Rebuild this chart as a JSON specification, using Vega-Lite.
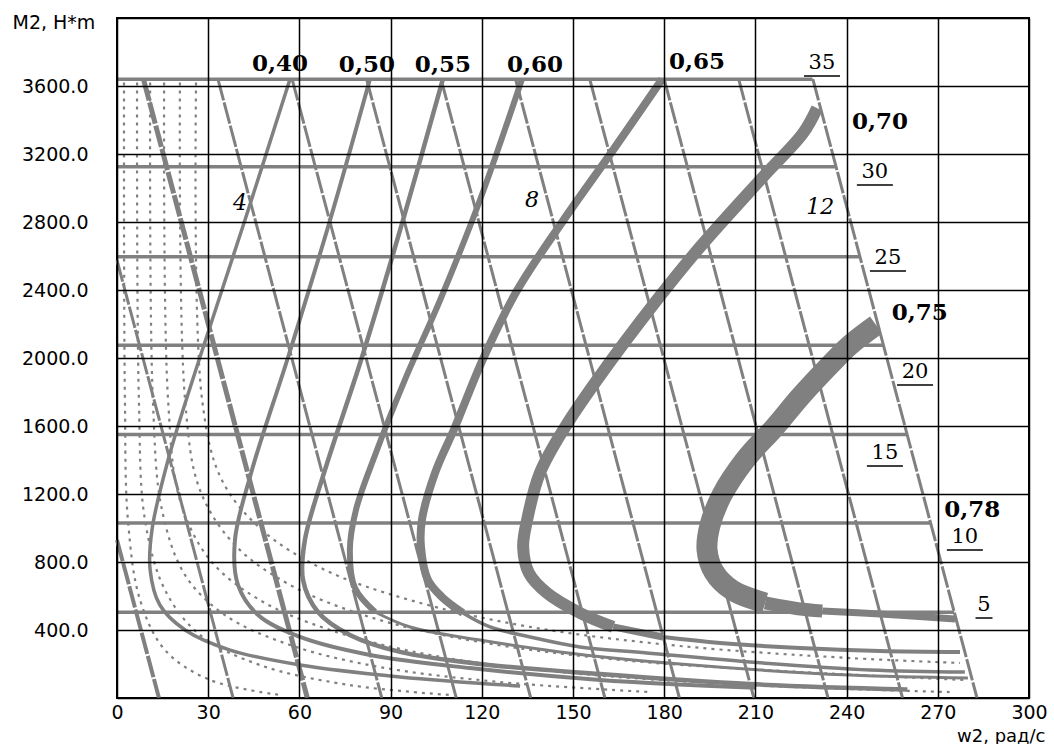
{
  "$schema": "https://vega.github.io/schema/vega-lite/v6.json",
  "width": 912,
  "height": 680,
  "autosize": {"type": "none"},
  "padding": {"left": 117, "top": 18, "right": 25, "bottom": 46},
  "background": "white",
  "config": {"view": {"stroke": "#000", "strokeWidth": 2}},
  "datasets": {
    "curves": [
      {"k": "ray", "g": "r1", "i": 0, "w": 0, "m": 930}, {"k": "ray", "g": "r1", "i": 1, "w": 13.8, "m": 0},
      {"k": "ray", "g": "r2", "i": 0, "w": 0, "m": 2575}, {"k": "ray", "g": "r2", "i": 1, "w": 38.2, "m": 0},
      {"k": "ray", "g": "r3", "i": 0, "w": 8.7, "m": 3640}, {"k": "ray", "g": "r3", "i": 1, "w": 62.6, "m": 0},
      {"k": "ray", "g": "r4", "i": 0, "w": 33.2, "m": 3640}, {"k": "ray", "g": "r4", "i": 1, "w": 87.1, "m": 0},
      {"k": "ray", "g": "r5", "i": 0, "w": 57.6, "m": 3640}, {"k": "ray", "g": "r5", "i": 1, "w": 111.6, "m": 0},
      {"k": "ray", "g": "r6", "i": 0, "w": 82.1, "m": 3640}, {"k": "ray", "g": "r6", "i": 1, "w": 136.1, "m": 0},
      {"k": "ray", "g": "r7", "i": 0, "w": 106.6, "m": 3640}, {"k": "ray", "g": "r7", "i": 1, "w": 160.5, "m": 0},
      {"k": "ray", "g": "r8", "i": 0, "w": 131.1, "m": 3640}, {"k": "ray", "g": "r8", "i": 1, "w": 185.0, "m": 0},
      {"k": "ray", "g": "r9", "i": 0, "w": 155.5, "m": 3640}, {"k": "ray", "g": "r9", "i": 1, "w": 209.5, "m": 0},
      {"k": "ray", "g": "r10", "i": 0, "w": 180.0, "m": 3640}, {"k": "ray", "g": "r10", "i": 1, "w": 233.9, "m": 0},
      {"k": "ray", "g": "r11", "i": 0, "w": 204.5, "m": 3640}, {"k": "ray", "g": "r11", "i": 1, "w": 258.4, "m": 0},
      {"k": "ray", "g": "r12", "i": 0, "w": 228.9, "m": 3640}, {"k": "ray", "g": "r12", "i": 1, "w": 282.9, "m": 0},

      {"k": "tq", "g": "t35", "i": 0, "w": 0, "m": 3640}, {"k": "tq", "g": "t35", "i": 1, "w": 228.8, "m": 3640},
      {"k": "tq", "g": "t30", "i": 0, "w": 0, "m": 3125}, {"k": "tq", "g": "t30", "i": 1, "w": 236.5, "m": 3125},
      {"k": "tq", "g": "t25", "i": 0, "w": 0, "m": 2595}, {"k": "tq", "g": "t25", "i": 1, "w": 244.3, "m": 2595},
      {"k": "tq", "g": "t20", "i": 0, "w": 0, "m": 2075}, {"k": "tq", "g": "t20", "i": 1, "w": 252.1, "m": 2075},
      {"k": "tq", "g": "t15", "i": 0, "w": 0, "m": 1550}, {"k": "tq", "g": "t15", "i": 1, "w": 259.9, "m": 1550},
      {"k": "tq", "g": "t10", "i": 0, "w": 0, "m": 1030}, {"k": "tq", "g": "t10", "i": 1, "w": 267.6, "m": 1030},
      {"k": "tq", "g": "t5", "i": 0, "w": 0, "m": 505}, {"k": "tq", "g": "t5", "i": 1, "w": 275.4, "m": 505},

      {"k": "dot", "g": "d1", "i": 0, "w": 2.3, "m": 3620}, {"k": "dot", "g": "d1", "i": 1, "w": 2.6, "m": 1753}, {"k": "dot", "g": "d1", "i": 2, "w": 3.6, "m": 1047}, {"k": "dot", "g": "d1", "i": 3, "w": 7.6, "m": 576}, {"k": "dot", "g": "d1", "i": 4, "w": 15.8, "m": 282}, {"k": "dot", "g": "d1", "i": 5, "w": 30.6, "m": 106}, {"k": "dot", "g": "d1", "i": 6, "w": 53.6, "m": 18},
      {"k": "dot", "g": "d2", "i": 0, "w": 6.6, "m": 3620}, {"k": "dot", "g": "d2", "i": 1, "w": 7.2, "m": 1753}, {"k": "dot", "g": "d2", "i": 2, "w": 9.2, "m": 1047}, {"k": "dot", "g": "d2", "i": 3, "w": 15.8, "m": 635}, {"k": "dot", "g": "d2", "i": 4, "w": 27.3, "m": 371}, {"k": "dot", "g": "d2", "i": 5, "w": 47.0, "m": 194}, {"k": "dot", "g": "d2", "i": 6, "w": 76.6, "m": 76}, {"k": "dot", "g": "d2", "i": 7, "w": 109.5, "m": 18},
      {"k": "dot", "g": "d3", "i": 0, "w": 10.9, "m": 3620}, {"k": "dot", "g": "d3", "i": 1, "w": 11.8, "m": 1753}, {"k": "dot", "g": "d3", "i": 2, "w": 14.8, "m": 1106}, {"k": "dot", "g": "d3", "i": 3, "w": 22.4, "m": 723}, {"k": "dot", "g": "d3", "i": 4, "w": 35.5, "m": 488}, {"k": "dot", "g": "d3", "i": 5, "w": 56.9, "m": 312}, {"k": "dot", "g": "d3", "i": 6, "w": 86.5, "m": 182}, {"k": "dot", "g": "d3", "i": 7, "w": 126.0, "m": 94}, {"k": "dot", "g": "d3", "i": 8, "w": 175.3, "m": 35},
      {"k": "dot", "g": "d4", "i": 0, "w": 15.5, "m": 3620}, {"k": "dot", "g": "d4", "i": 1, "w": 16.8, "m": 1753}, {"k": "dot", "g": "d4", "i": 2, "w": 20.7, "m": 1165}, {"k": "dot", "g": "d4", "i": 3, "w": 30.6, "m": 812}, {"k": "dot", "g": "d4", "i": 4, "w": 47.0, "m": 576}, {"k": "dot", "g": "d4", "i": 5, "w": 70.1, "m": 400}, {"k": "dot", "g": "d4", "i": 6, "w": 103.0, "m": 253}, {"k": "dot", "g": "d4", "i": 7, "w": 145.7, "m": 153}, {"k": "dot", "g": "d4", "i": 8, "w": 208.2, "m": 76}, {"k": "dot", "g": "d4", "i": 9, "w": 274.0, "m": 35},
      {"k": "dot", "g": "d5", "i": 0, "w": 20.7, "m": 3620}, {"k": "dot", "g": "d5", "i": 1, "w": 22.4, "m": 1753}, {"k": "dot", "g": "d5", "i": 2, "w": 27.3, "m": 1223}, {"k": "dot", "g": "d5", "i": 3, "w": 38.8, "m": 900}, {"k": "dot", "g": "d5", "i": 4, "w": 56.9, "m": 665}, {"k": "dot", "g": "d5", "i": 5, "w": 83.2, "m": 476}, {"k": "dot", "g": "d5", "i": 6, "w": 119.4, "m": 329}, {"k": "dot", "g": "d5", "i": 7, "w": 165.5, "m": 224}, {"k": "dot", "g": "d5", "i": 8, "w": 224.7, "m": 153}, {"k": "dot", "g": "d5", "i": 9, "w": 278.9, "m": 106},
      {"k": "dot", "g": "d6", "i": 0, "w": 26.0, "m": 3620}, {"k": "dot", "g": "d6", "i": 1, "w": 28.0, "m": 1753}, {"k": "dot", "g": "d6", "i": 2, "w": 34.5, "m": 1282}, {"k": "dot", "g": "d6", "i": 3, "w": 47.7, "m": 988}, {"k": "dot", "g": "d6", "i": 4, "w": 68.4, "m": 753}, {"k": "dot", "g": "d6", "i": 5, "w": 96.4, "m": 576}, {"k": "dot", "g": "d6", "i": 6, "w": 135.9, "m": 418}, {"k": "dot", "g": "d6", "i": 7, "w": 185.2, "m": 306}, {"k": "dot", "g": "d6", "i": 8, "w": 241.1, "m": 235}, {"k": "dot", "g": "d6", "i": 9, "w": 277.3, "m": 206},

      {"k": "eff", "g": "0,40", "i": 0, "w": 56.9, "m": 3640}, {"k": "eff", "g": "0,40", "i": 1, "w": 42.1, "m": 2812}, {"k": "eff", "g": "0,40", "i": 2, "w": 27.3, "m": 2006}, {"k": "eff", "g": "0,40", "i": 3, "w": 16.8, "m": 1400}, {"k": "eff", "g": "0,40", "i": 4, "w": 11.5, "m": 988}, {"k": "eff", "g": "0,40", "i": 5, "w": 10.9, "m": 753}, {"k": "eff", "g": "0,40", "i": 6, "w": 14.1, "m": 547}, {"k": "eff", "g": "0,40", "i": 7, "w": 22.4, "m": 400}, {"k": "eff", "g": "0,40", "i": 8, "w": 37.2, "m": 282}, {"k": "eff", "g": "0,40", "i": 9, "w": 60.2, "m": 194}, {"k": "eff", "g": "0,40", "i": 10, "w": 93.1, "m": 124}, {"k": "eff", "g": "0,40", "i": 11, "w": 132.6, "m": 71},
      {"k": "eff", "g": "0,50", "i": 0, "w": 83.2, "m": 3640}, {"k": "eff", "g": "0,50", "i": 1, "w": 70.1, "m": 2812}, {"k": "eff", "g": "0,50", "i": 2, "w": 56.3, "m": 2006}, {"k": "eff", "g": "0,50", "i": 3, "w": 44.4, "m": 1341}, {"k": "eff", "g": "0,50", "i": 4, "w": 38.8, "m": 929}, {"k": "eff", "g": "0,50", "i": 5, "w": 39.8, "m": 665}, {"k": "eff", "g": "0,50", "i": 6, "w": 46.4, "m": 488}, {"k": "eff", "g": "0,50", "i": 7, "w": 60.2, "m": 359}, {"k": "eff", "g": "0,50", "i": 8, "w": 83.2, "m": 253}, {"k": "eff", "g": "0,50", "i": 9, "w": 116.1, "m": 176}, {"k": "eff", "g": "0,50", "i": 10, "w": 158.9, "m": 106}, {"k": "eff", "g": "0,50", "i": 11, "w": 210.0, "m": 60},
      {"k": "eff", "g": "0,55", "i": 0, "w": 107.2, "m": 3640}, {"k": "eff", "g": "0,55", "i": 1, "w": 94.1, "m": 2812}, {"k": "eff", "g": "0,55", "i": 2, "w": 80.6, "m": 2006}, {"k": "eff", "g": "0,55", "i": 3, "w": 68.4, "m": 1341}, {"k": "eff", "g": "0,55", "i": 4, "w": 61.8, "m": 929}, {"k": "eff", "g": "0,55", "i": 5, "w": 61.2, "m": 694}, {"k": "eff", "g": "0,55", "i": 6, "w": 66.1, "m": 506}, {"k": "eff", "g": "0,55", "i": 7, "w": 76.6, "m": 371}, {"k": "eff", "g": "0,55", "i": 8, "w": 93.1, "m": 271}, {"k": "eff", "g": "0,55", "i": 9, "w": 119.4, "m": 200}, {"k": "eff", "g": "0,55", "i": 10, "w": 158.9, "m": 141}, {"k": "eff", "g": "0,55", "i": 11, "w": 208.2, "m": 82}, {"k": "eff", "g": "0,55", "i": 12, "w": 260.0, "m": 50},
      {"k": "eff", "g": "0,60", "i": 0, "w": 133.2, "m": 3640}, {"k": "eff", "g": "0,60", "i": 1, "w": 119.4, "m": 2929}, {"k": "eff", "g": "0,60", "i": 2, "w": 106.3, "m": 2341}, {"k": "eff", "g": "0,60", "i": 3, "w": 94.7, "m": 1871}, {"k": "eff", "g": "0,60", "i": 4, "w": 84.9, "m": 1429}, {"k": "eff", "g": "0,60", "i": 5, "w": 78.6, "m": 1106}, {"k": "eff", "g": "0,60", "i": 6, "w": 76.6, "m": 871}, {"k": "eff", "g": "0,60", "i": 7, "w": 78.3, "m": 647}, {"k": "eff", "g": "0,60", "i": 8, "w": 84.9, "m": 506},
      {"k": "eff", "g": "0,60b", "i": 0, "w": 84.9, "m": 506}, {"k": "eff", "g": "0,60b", "i": 1, "w": 96.4, "m": 418}, {"k": "eff", "g": "0,60b", "i": 2, "w": 119.4, "m": 341}, {"k": "eff", "g": "0,60b", "i": 3, "w": 145.7, "m": 271}, {"k": "eff", "g": "0,60b", "i": 4, "w": 185.2, "m": 200}, {"k": "eff", "g": "0,60b", "i": 5, "w": 241.1, "m": 135}, {"k": "eff", "g": "0,60b", "i": 6, "w": 279.9, "m": 118},
      {"k": "eff", "g": "0,65", "i": 0, "w": 179.3, "m": 3640}, {"k": "eff", "g": "0,65", "i": 1, "w": 163.2, "m": 3223}, {"k": "eff", "g": "0,65", "i": 2, "w": 146.7, "m": 2806}, {"k": "eff", "g": "0,65", "i": 3, "w": 131.5, "m": 2394}, {"k": "eff", "g": "0,65", "i": 4, "w": 120.4, "m": 1994}, {"k": "eff", "g": "0,65", "i": 5, "w": 111.2, "m": 1594}, {"k": "eff", "g": "0,65", "i": 6, "w": 104.6, "m": 1323}, {"k": "eff", "g": "0,65", "i": 7, "w": 100.3, "m": 1047}, {"k": "eff", "g": "0,65", "i": 8, "w": 100.0, "m": 888}, {"k": "eff", "g": "0,65", "i": 9, "w": 102.3, "m": 694}, {"k": "eff", "g": "0,65", "i": 10, "w": 106.9, "m": 594}, {"k": "eff", "g": "0,65", "i": 11, "w": 113.8, "m": 500},
      {"k": "eff", "g": "0,65b", "i": 0, "w": 113.8, "m": 500}, {"k": "eff", "g": "0,65b", "i": 1, "w": 122.7, "m": 418}, {"k": "eff", "g": "0,65b", "i": 2, "w": 135.9, "m": 359}, {"k": "eff", "g": "0,65b", "i": 3, "w": 152.3, "m": 300}, {"k": "eff", "g": "0,65b", "i": 4, "w": 174.3, "m": 265}, {"k": "eff", "g": "0,65b", "i": 5, "w": 208.2, "m": 212}, {"k": "eff", "g": "0,65b", "i": 6, "w": 247.7, "m": 165}, {"k": "eff", "g": "0,65b", "i": 7, "w": 278.9, "m": 153},
      {"k": "eff", "g": "0,70", "i": 0, "w": 230.3, "m": 3470}, {"k": "eff", "g": "0,70", "i": 1, "w": 225.7, "m": 3323}, {"k": "eff", "g": "0,70", "i": 2, "w": 212.5, "m": 3065}, {"k": "eff", "g": "0,70", "i": 3, "w": 191.8, "m": 2653}, {"k": "eff", "g": "0,70", "i": 4, "w": 177.6, "m": 2341}, {"k": "eff", "g": "0,70", "i": 5, "w": 157.9, "m": 1871}, {"k": "eff", "g": "0,70", "i": 6, "w": 147.4, "m": 1594}, {"k": "eff", "g": "0,70", "i": 7, "w": 139.1, "m": 1323}, {"k": "eff", "g": "0,70", "i": 8, "w": 134.9, "m": 1047}, {"k": "eff", "g": "0,70", "i": 9, "w": 133.6, "m": 888}, {"k": "eff", "g": "0,70", "i": 10, "w": 135.5, "m": 735}, {"k": "eff", "g": "0,70", "i": 11, "w": 141.4, "m": 618}, {"k": "eff", "g": "0,70", "i": 12, "w": 152.3, "m": 500}, {"k": "eff", "g": "0,70", "i": 13, "w": 163.2, "m": 418},
      {"k": "eff", "g": "0,70b", "i": 0, "w": 163.2, "m": 418}, {"k": "eff", "g": "0,70b", "i": 1, "w": 179.6, "m": 359},
      {"k": "eff", "g": "0,70c", "i": 0, "w": 179.6, "m": 359}, {"k": "eff", "g": "0,70c", "i": 1, "w": 198.4, "m": 324}, {"k": "eff", "g": "0,70c", "i": 2, "w": 224.7, "m": 294}, {"k": "eff", "g": "0,70c", "i": 3, "w": 251.0, "m": 276}, {"k": "eff", "g": "0,70c", "i": 4, "w": 277.3, "m": 270},
      {"k": "eff", "g": "0,75", "i": 0, "w": 249.7, "m": 2194}, {"k": "eff", "g": "0,75", "i": 1, "w": 241.1, "m": 2076}, {"k": "eff", "g": "0,75", "i": 2, "w": 234.5, "m": 1959}, {"k": "eff", "g": "0,75", "i": 3, "w": 224.7, "m": 1771}, {"k": "eff", "g": "0,75", "i": 4, "w": 216.4, "m": 1594}, {"k": "eff", "g": "0,75", "i": 5, "w": 206.6, "m": 1400}, {"k": "eff", "g": "0,75", "i": 6, "w": 199.0, "m": 1194}, {"k": "eff", "g": "0,75", "i": 7, "w": 195.1, "m": 1018}, {"k": "eff", "g": "0,75", "i": 8, "w": 194.1, "m": 871}, {"k": "eff", "g": "0,75", "i": 9, "w": 196.4, "m": 741}, {"k": "eff", "g": "0,75", "i": 10, "w": 202.3, "m": 635}, {"k": "eff", "g": "0,75", "i": 11, "w": 213.2, "m": 559},
      {"k": "eff", "g": "0,75b", "i": 0, "w": 213.2, "m": 559}, {"k": "eff", "g": "0,75b", "i": 1, "w": 224.0, "m": 525}, {"k": "eff", "g": "0,75b", "i": 2, "w": 232.0, "m": 512},
      {"k": "eff", "g": "0,75c", "i": 0, "w": 232.0, "m": 512}, {"k": "eff", "g": "0,75c", "i": 1, "w": 251.0, "m": 494}, {"k": "eff", "g": "0,75c", "i": 2, "w": 275.7, "m": 465}
    ],
    "labels": [
      {"k": "e", "t": "0,40", "w": 53.6, "m": 3729},
      {"k": "e", "t": "0,50", "w": 82.2, "m": 3723},
      {"k": "e", "t": "0,55", "w": 107.2, "m": 3723},
      {"k": "e", "t": "0,60", "w": 137.5, "m": 3723},
      {"k": "e", "t": "0,65", "w": 190.8, "m": 3741},
      {"k": "e", "t": "0,70", "w": 251.0, "m": 3388},
      {"k": "e", "t": "0,75", "w": 264.1, "m": 2265},
      {"k": "e", "t": "0,78", "w": 281.3, "m": 1106},
      {"k": "t", "t": "35", "w": 231.9, "m": 3735},
      {"k": "t", "t": "30", "w": 249.3, "m": 3094},
      {"k": "t", "t": "25", "w": 253.6, "m": 2588},
      {"k": "t", "t": "20", "w": 262.5, "m": 1918},
      {"k": "t", "t": "15", "w": 252.6, "m": 1441},
      {"k": "t", "t": "10", "w": 278.9, "m": 947},
      {"k": "t", "t": "5", "w": 285.2, "m": 547},
      {"k": "n", "t": "4", "w": 40.5, "m": 2912},
      {"k": "n", "t": "8", "w": 136.5, "m": 2929},
      {"k": "n", "t": "12", "w": 231.3, "m": 2888}
    ]
  },
  "encoding": {
    "x": {
      "field": "w", "type": "quantitative",
      "scale": {"domain": [0, 300], "nice": false, "zero": false},
      "axis": {
        "values": [0, 30, 60, 90, 120, 150, 180, 210, 240, 270, 300],
        "title": "w2, рад/с", "grid": true, "gridColor": "#000", "gridWidth": 1.5, "gridOpacity": 1,
        "domain": false, "ticks": false, "labelFont": "DejaVu Sans", "labelFontSize": 19, "labelColor": "#000",
        "labelPadding": 5, "labelFlush": false, "labelOverlap": false,
        "titleFont": "DejaVu Sans", "titleFontSize": 18, "titleFontWeight": "normal", "titleColor": "#000",
        "titleAlign": "right", "titleBaseline": "middle", "titleX": 928, "titleY": 38, "zindex": 1
      }
    },
    "y": {
      "field": "m", "type": "quantitative",
      "scale": {"domain": [0, 4000], "nice": false, "zero": false},
      "axis": {
        "values": [0, 400, 800, 1200, 1600, 2000, 2400, 2800, 3200, 3600, 4000],
        "labelExpr": "datum.value > 0 && datum.value < 4000 ? format(datum.value, '.1f') : ''",
        "title": "M2, H*m", "grid": true, "gridColor": "#000", "gridWidth": 1.5, "gridOpacity": 1,
        "domain": false, "ticks": false, "labelFont": "DejaVu Sans", "labelFontSize": 19, "labelColor": "#000",
        "labelPadding": 29, "labelFlush": false, "labelOverlap": false,
        "titleFont": "DejaVu Sans", "titleFontSize": 19, "titleFontWeight": "normal", "titleColor": "#000",
        "titleAngle": 0, "titleAlign": "left", "titleBaseline": "middle", "titleX": -105, "titleY": 4, "zindex": 1
      }
    }
  },
  "layer": [
    {
      "data": {"name": "curves"},
      "transform": [{"filter": "datum.k == 'dot'"}],
      "mark": {"type": "line", "color": "#808080", "strokeWidth": 2.2, "strokeDash": [3, 5], "interpolate": "catmull-rom"},
      "encoding": {"detail": {"field": "g", "type": "nominal"}, "order": {"field": "i", "type": "quantitative"}}
    },
    {
      "data": {"name": "curves"},
      "transform": [{"filter": "datum.k == 'ray'"}],
      "mark": {"type": "line", "color": "#808080", "strokeDash": [22, 2]},
      "encoding": {
        "detail": {"field": "g", "type": "nominal"},
        "order": {"field": "i", "type": "quantitative"},
        "strokeWidth": {"condition": [{"test": "datum.g == 'r3'", "value": 5}, {"test": "datum.g == 'r1'", "value": 4}], "value": 3}
      }
    },
    {
      "data": {"name": "curves"},
      "transform": [{"filter": "datum.k == 'tq'"}],
      "mark": {"type": "line", "color": "#808080", "strokeWidth": 3.5},
      "encoding": {"detail": {"field": "g", "type": "nominal"}, "order": {"field": "i", "type": "quantitative"}}
    },
    {
      "data": {"name": "curves"},
      "transform": [{"filter": "datum.k == 'eff'"}],
      "mark": {"type": "line", "color": "#808080", "strokeJoin": "round", "strokeCap": "butt", "interpolate": "catmull-rom"},
      "encoding": {
        "detail": {"field": "g", "type": "nominal"},
        "order": {"field": "i", "type": "quantitative"},
        "strokeWidth": {
          "condition": [
            {"test": "datum.g == '0,40'", "value": 3.5},
            {"test": "datum.g == '0,50'", "value": 4},
            {"test": "datum.g == '0,55'", "value": 4.5},
            {"test": "datum.g == '0,60'", "value": 6},
            {"test": "datum.g == '0,60b'", "value": 3},
            {"test": "datum.g == '0,65'", "value": 8},
            {"test": "datum.g == '0,65b'", "value": 3.5},
            {"test": "datum.g == '0,70'", "value": 12},
            {"test": "datum.g == '0,70b'", "value": 7},
            {"test": "datum.g == '0,70c'", "value": 4},
            {"test": "datum.g == '0,75'", "value": 21},
            {"test": "datum.g == '0,75b'", "value": 13}
          ],
          "value": 7
        }
      }
    },
    {
      "data": {"name": "labels"},
      "transform": [{"filter": "datum.k == 'e'"}],
      "mark": {"type": "text", "font": "DejaVu Serif", "fontSize": 23, "fontWeight": "bold", "color": "#000", "baseline": "middle", "align": "center"},
      "encoding": {"text": {"field": "t", "type": "nominal"}}
    },
    {
      "data": {"name": "labels"},
      "transform": [{"filter": "datum.k == 't'"}],
      "mark": {"type": "text", "font": "DejaVu Serif", "fontSize": 21, "color": "#000", "baseline": "middle", "align": "center"},
      "encoding": {"text": {"field": "t", "type": "nominal"}}
    },
    {
      "data": {"name": "labels"},
      "transform": [{"filter": "datum.k == 't'"}],
      "mark": {"type": "tick", "orient": "horizontal", "thickness": 1.5, "color": "#000", "opacity": 1, "yOffset": 13},
      "encoding": {"size": {"condition": {"test": "datum.t == '5'", "value": 17}, "value": 36}}
    },
    {
      "data": {"name": "labels"},
      "transform": [{"filter": "datum.k == 'n'"}],
      "mark": {"type": "text", "font": "DejaVu Serif", "fontSize": 22, "fontStyle": "italic", "color": "#000", "baseline": "middle", "align": "center"},
      "encoding": {"text": {"field": "t", "type": "nominal"}}
    }
  ]
}
